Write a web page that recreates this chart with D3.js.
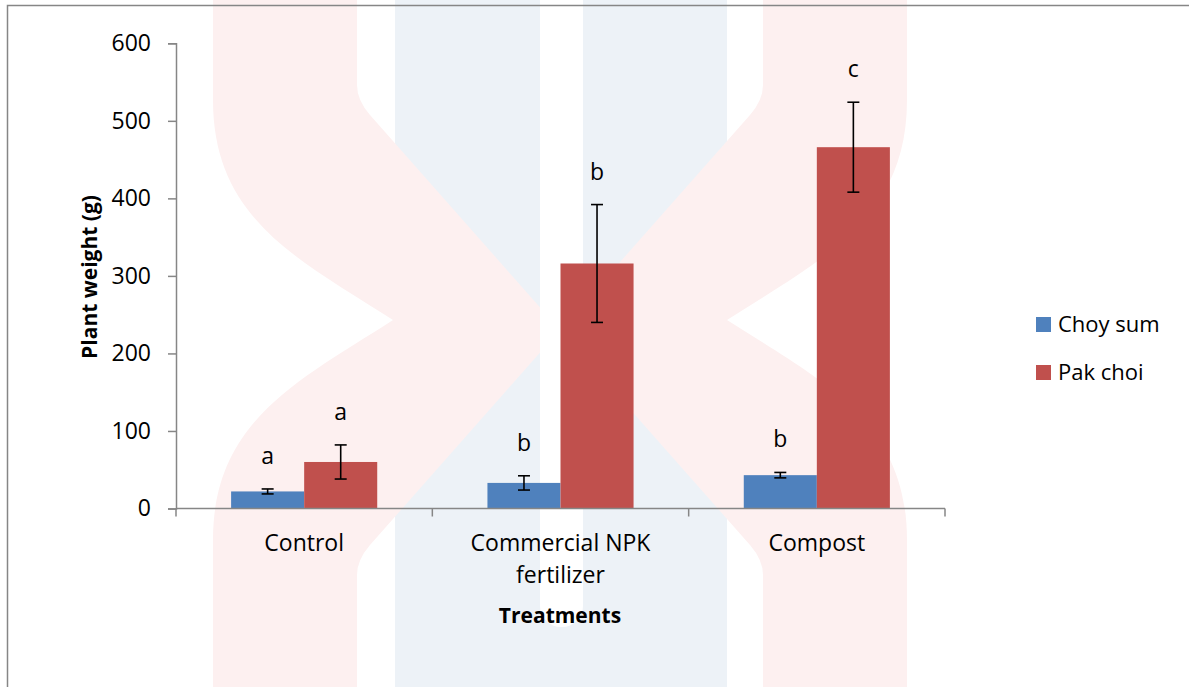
<!DOCTYPE html>
<html>
<head>
<meta charset="utf-8">
<script src="https://cdn.jsdelivr.net/npm/d3@7"></script>
<style>
  html, body { margin: 0; padding: 0; background: #ffffff; }
  svg { display: block; font-family: "Open Sans", "Noto Sans", sans-serif; }
</style>
</head>
<body>
<svg id="chart" width="1189" height="687"></svg>
<script>
// ---- data ----
const categories = ["Control", "Commercial NPK fertilizer", "Compost"];
const categoryLines = [["Control"], ["Commercial NPK", "fertilizer"], ["Compost"]];
const seriesNames = ["Choy sum", "Pak choi"];
const choySum = [22, 33, 43];
const choySumErr = [3.2, 9.2, 3.5];
const pakChoi = [60, 316, 466];
const pakChoiErr = [22, 76, 58];
const choySumLetters = ["a", "b", "b"];
const pakChoiLetters = ["a", "b", "c"];
const yTicks = [0, 100, 200, 300, 400, 500, 600];
const colors = ["#4F81BD", "#C0504D"];

const W = 1189, H = 687;
const svg = d3.select("#chart");

// ---- watermark (background decoration) ----
const wm = svg.append("g");
wm.append("rect").attr("x", 395).attr("y", 0).attr("width", 332).attr("height", H).attr("fill", "#edf2f7");
const chevronL = "M213,0 L357,0 L357,85 Q357,100 370,115 L560,330 L370,545 Q357,560 357,575 L357,687 L213,687 L213,540 C213,420 300,380 393,320 C300,260 213,220 213,100 Z";
wm.append("path").attr("d", chevronL).attr("fill", "#fdf0f0");
wm.append("path").attr("d", chevronL).attr("fill", "#fdf0f0")
  .attr("transform", "translate(1120,0) scale(-1,1)");
wm.append("rect").attr("x", 540).attr("y", -30).attr("width", 43).attr("height", 657)
  .attr("rx", 21).attr("fill", "#ffffff");

// ---- outer border ----
svg.append("rect").attr("x", 7.5).attr("y", 5.5).attr("width", 1300).attr("height", 800)
  .attr("fill", "none").attr("stroke", "#868686").attr("stroke-width", 1.5);

// ---- scales ----
const x0 = d3.scaleBand().domain(categories).range([176, 945]).paddingInner(0).paddingOuter(0);
const bw = x0.bandwidth();
const x1 = d3.scaleBand().domain(seriesNames).range([bw * 0.215, bw * 0.785]).padding(0);
const y = d3.scaleLinear().domain([0, 600]).range([508.5, 43.3]);

const axisColor = "#868686";

// ---- y axis ----
const yAxis = svg.append("g").attr("transform", "translate(176,0)")
  .call(d3.axisLeft(y).tickValues(yTicks).tickSize(8).tickPadding(17).tickFormat(d3.format("d")));
yAxis.select(".domain").attr("stroke", axisColor).attr("stroke-width", 1.5);
yAxis.selectAll(".tick line").attr("stroke", axisColor).attr("stroke-width", 1.5);
yAxis.selectAll(".tick text").attr("font-size", 23).attr("fill", "#000")
  .attr("font-family", "'Open Sans', sans-serif");

// ---- bars ----
const seriesVals = [choySum, pakChoi];
const seriesErr = [choySumErr, pakChoiErr];
const seriesLetters = [choySumLetters, pakChoiLetters];
const barData = [];
categories.forEach((c, i) => {
  seriesNames.forEach((s, j) => {
    barData.push({ cat: c, ser: s, j, v: seriesVals[j][i], e: seriesErr[j][i], l: seriesLetters[j][i] });
  });
});
const bars = svg.append("g");
bars.selectAll("rect").data(barData).join("rect")
  .attr("x", d => x0(d.cat) + x1(d.ser))
  .attr("y", d => y(d.v))
  .attr("width", x1.bandwidth())
  .attr("height", d => y(0) - y(d.v))
  .attr("fill", d => colors[d.j]);

// ---- x axis ----
const xAxisG = svg.append("g");
xAxisG.append("line").attr("x1", 176).attr("x2", 945).attr("y1", y(0)).attr("y2", y(0))
  .attr("stroke", axisColor).attr("stroke-width", 1.5);
const boundaries = categories.map(c => x0(c)).concat([x0(categories[categories.length - 1]) + bw]);
xAxisG.selectAll("line.tk").data(boundaries).join("line").attr("class", "tk")
  .attr("x1", d => d).attr("x2", d => d).attr("y1", y(0)).attr("y2", y(0) + 8)
  .attr("stroke", axisColor).attr("stroke-width", 1.5);
categories.forEach((c, i) => {
  const t = xAxisG.append("text").attr("text-anchor", "middle").attr("font-size", 23).attr("fill", "#000");
  categoryLines[i].forEach((ln, k) => {
    t.append("tspan").attr("x", x0(c) + bw / 2).attr("y", 551 + k * 32).text(ln);
  });
});

// ---- error bars ----
const eb = svg.append("g").attr("stroke", "#000").attr("stroke-width", 1.6);
barData.forEach(d => {
  const cx = x0(d.cat) + x1(d.ser) + x1.bandwidth() / 2;
  const yt = y(d.v + d.e), yb = y(d.v - d.e);
  eb.append("line").attr("x1", cx).attr("x2", cx).attr("y1", yt).attr("y2", yb);
  eb.append("line").attr("x1", cx - 6).attr("x2", cx + 6).attr("y1", yt).attr("y2", yt);
  eb.append("line").attr("x1", cx - 6).attr("x2", cx + 6).attr("y1", yb).attr("y2", yb);
});

// ---- significance letters ----
svg.append("g").selectAll("text").data(barData).join("text")
  .attr("x", d => x0(d.cat) + x1(d.ser) + x1.bandwidth() / 2)
  .attr("y", d => y(d.v + d.e) - 25)
  .attr("text-anchor", "middle").attr("font-size", 23).attr("fill", "#000")
  .text(d => d.l);

// ---- axis titles ----
svg.append("text").attr("transform", "translate(97,277) rotate(-90)")
  .attr("text-anchor", "middle").attr("font-size", 21).attr("font-weight", "bold").attr("fill", "#000")
  .text("Plant weight (g)");
svg.append("text").attr("x", 560).attr("y", 623)
  .attr("text-anchor", "middle").attr("font-size", 21).attr("font-weight", "bold").attr("fill", "#000")
  .text("Treatments");

// ---- legend ----
const lg = svg.append("g");
seriesNames.forEach((s, j) => {
  lg.append("rect").attr("x", 1036).attr("y", 317 + j * 48).attr("width", 15).attr("height", 15).attr("fill", colors[j]);
  lg.append("text").attr("x", 1058).attr("y", 332 + j * 48).attr("font-size", 22).attr("fill", "#000").text(s);
});
</script>
</body>
</html>
